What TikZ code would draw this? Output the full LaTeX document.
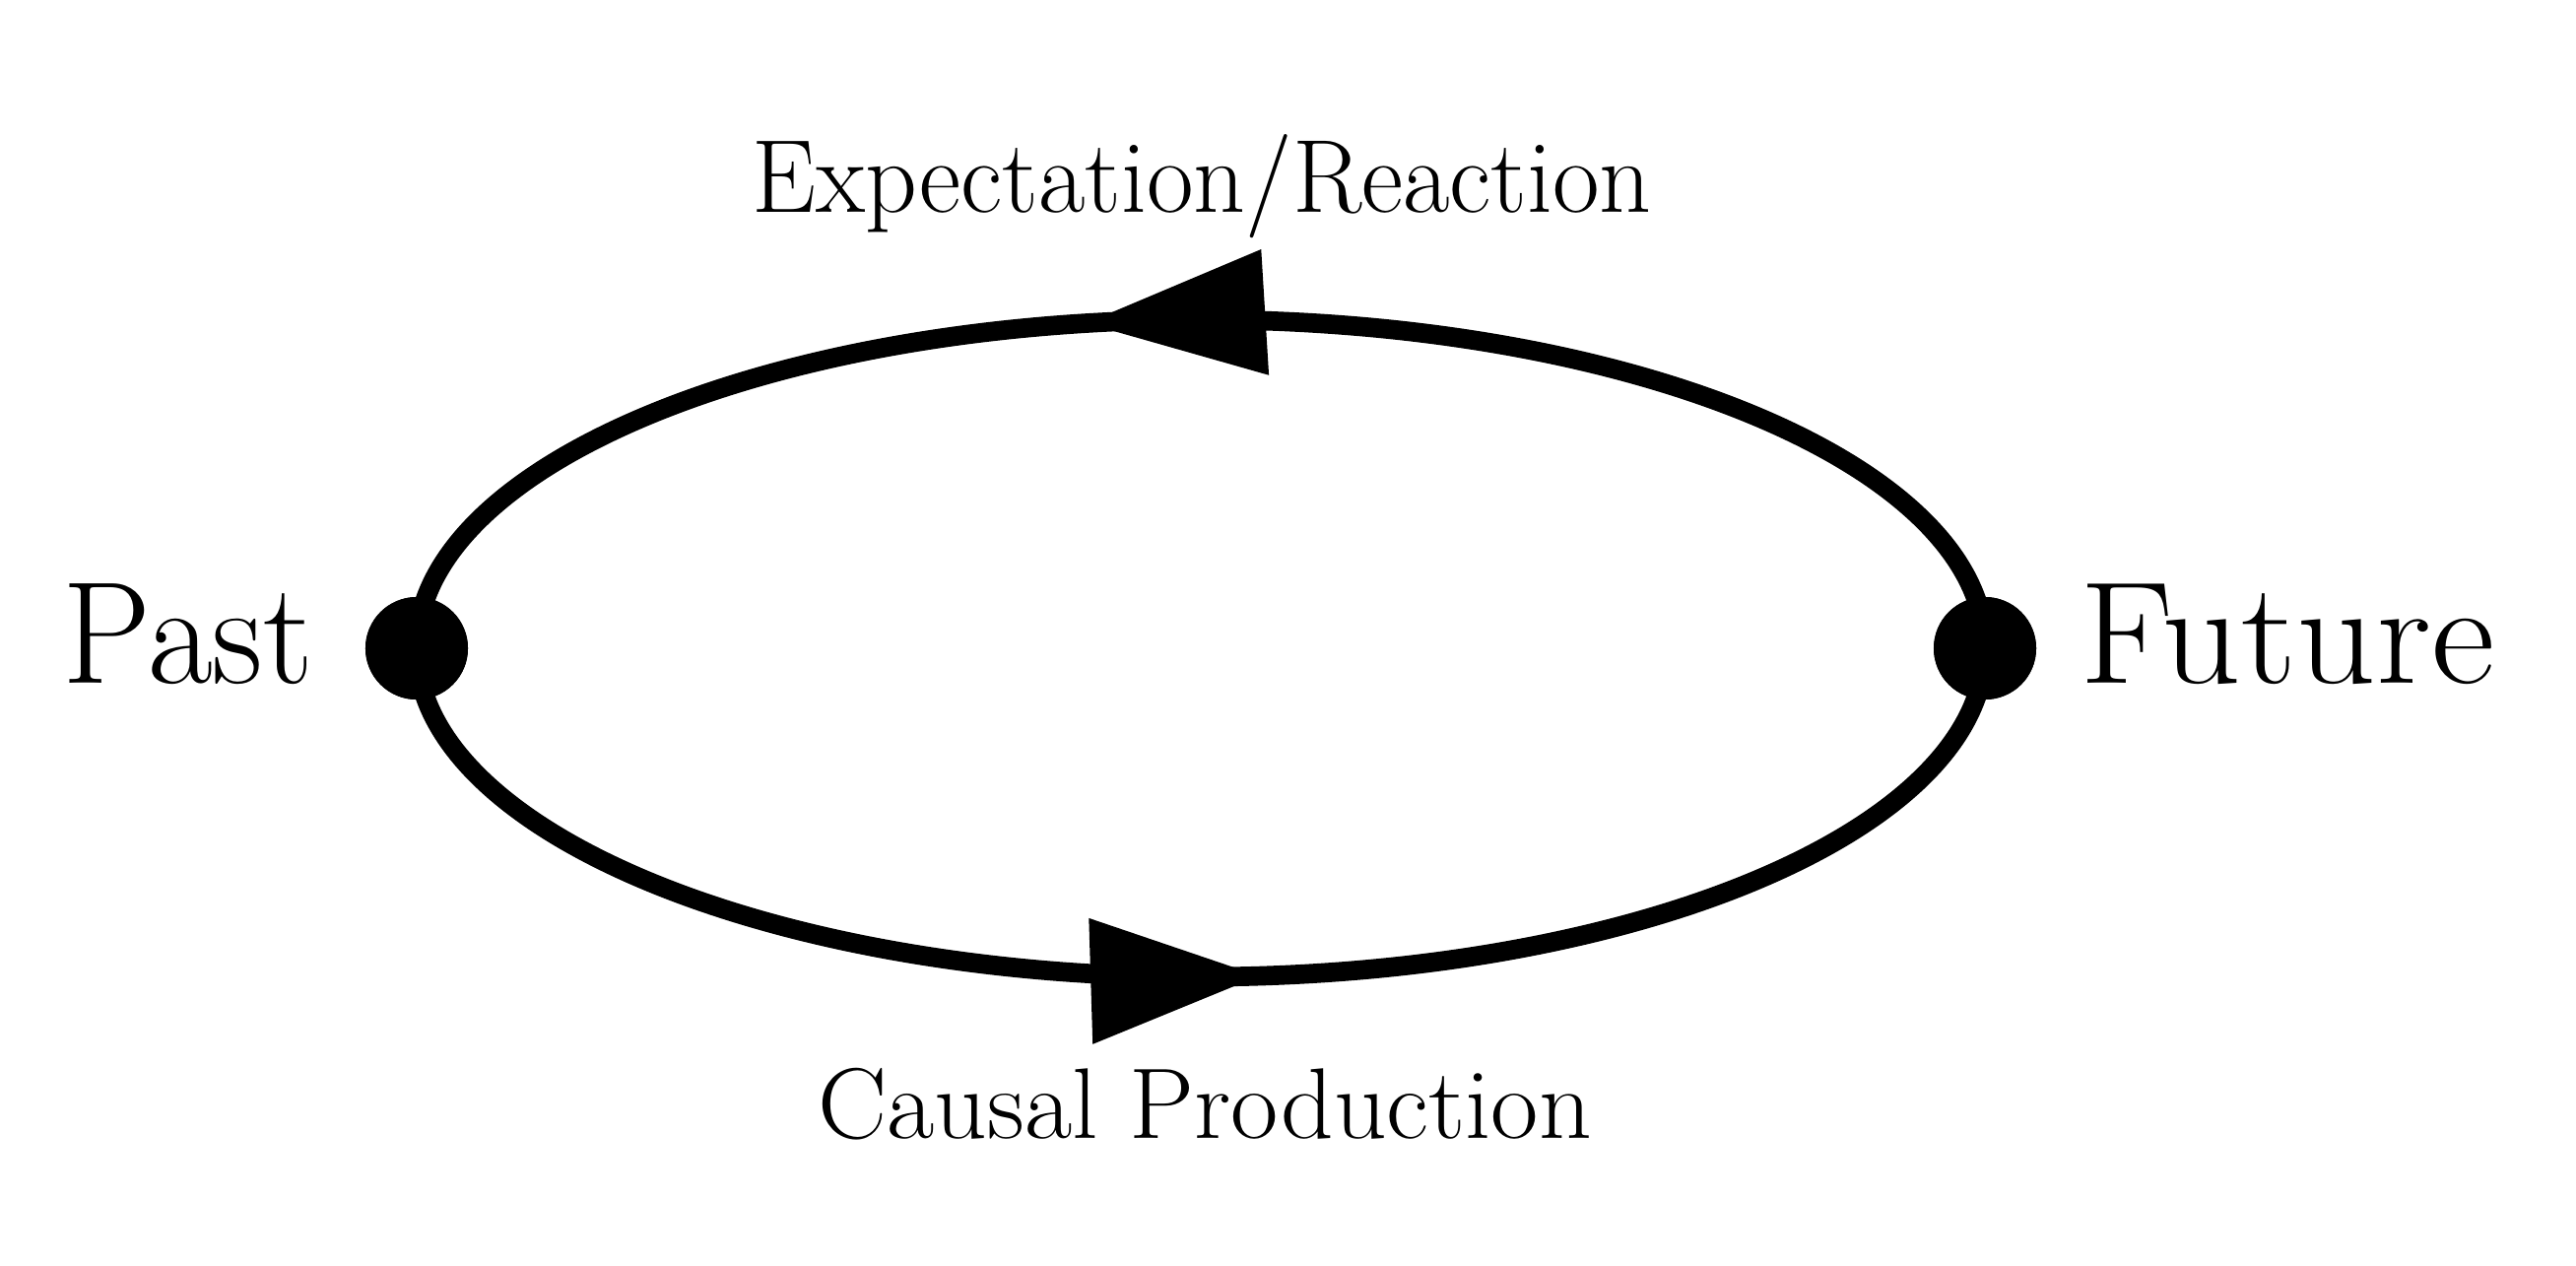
\documentclass[tikz,border=0pt]{standalone}
\usepackage{fontspec}
\usetikzlibrary{decorations.markings}
\begin{document}
\begin{tikzpicture}[x=0.01cm,y=-0.01cm,
  dot/.style={circle,fill=black,inner sep=0pt,minimum size=1.04cm},
  conn/.style={line width=5.6pt},
  bigtext/.style={font=\fontsize{42}{50}\selectfont,anchor=base,inner sep=0pt},
  midtext/.style={font=\fontsize{30}{36}\selectfont,anchor=base,inner sep=0pt},
  headmark/.style n args={2}{postaction={decorate},decoration={markings,mark=at position #1 with {\fill (0,0) -- (-#2,64) -- (-#2,-64) -- cycle;}}}
]
\useasboundingbox (0,0) rectangle (2615,1284);
\node[dot] (past) at (423,658) {};
\node[dot] (future) at (2015,658) {};
\draw[conn,headmark={0.563}{182}] (future.center) arc[start angle=0,end angle=-180,x radius=796,y radius=333.5];
\draw[conn,headmark={0.532}{171}] (past.center) arc[start angle=180,end angle=0,x radius=796,y radius=333.5];
\node[dot] at (past) {};
\node[dot] at (future) {};
\node[bigtext,xscale=0.97] (pastlbl) at (191,693) {Past};
\node[bigtext,xscale=1.07] (futurelbl) at (2322,693) {Future};
\node[midtext,xscale=0.98] (toplbl) at (1220,215) {Expectation/Reaction};
\node[font=\fontsize{29}{35}\selectfont,anchor=base,inner sep=0pt,xscale=1.03] (botlbl) at (1223,1155) {Causal Production};
\end{tikzpicture}
\end{document}
